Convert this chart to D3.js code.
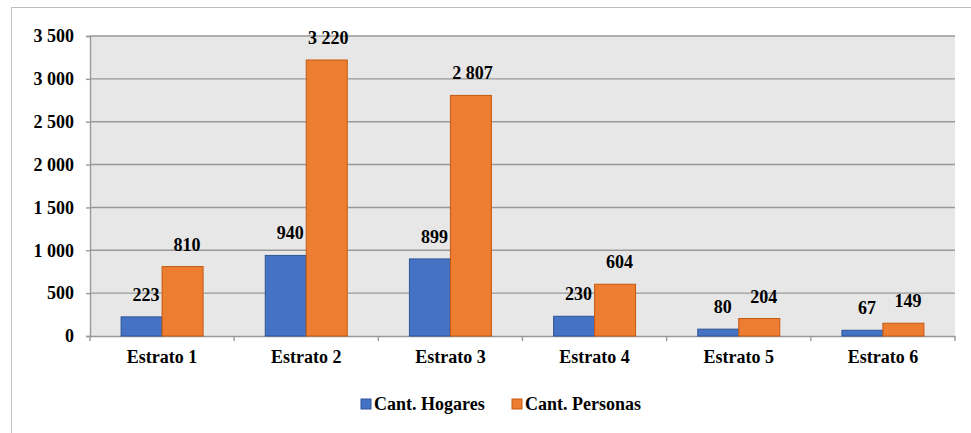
<!DOCTYPE html>
<html><head><meta charset="utf-8">
<script src="https://cdn.jsdelivr.net/npm/d3@7"></script>
<style>body{margin:0;background:#fff;}svg{display:block;} text{font-family:"Liberation Serif","Times New Roman",serif;font-weight:bold;}</style>
</head><body>
<svg id="c" width="971" height="433"></svg>
<script>
const categories = ["Estrato 1","Estrato 2","Estrato 3","Estrato 4","Estrato 5","Estrato 6"];
const seriesNames = ["Cant. Hogares","Cant. Personas"];
const hogares = [223, 940, 899, 230, 80, 67];
const personas = [810, 3220, 2807, 604, 204, 149];
const yTicks = [0, 500, 1000, 1500, 2000, 2500, 3000, 3500];
const colors = ["#4472C4", "#ED7D31"];
const strokes = ["#2F5597", "#C55A11"];

const svg = d3.select("#c");
const W = 971, H = 433;
const m = {left: 90, right: 955, top: 36, bottom: 336};
const FS = "18px";
const loc = d3.formatLocale({decimal: ",", thousands: " ", grouping: [3], currency: ["", ""]});
const fmt = loc.format(",d");

function styleText(sel) {
  sel.style("font-family", "'Liberation Serif','Times New Roman',serif")
     .style("font-weight", "bold").style("font-size", FS).attr("fill", "#000");
}

// outer border
svg.append("rect").attr("x", 11.5).attr("y", 7.5).attr("width", W).attr("height", H)
  .attr("fill", "#fff").attr("stroke", "#bfbfbf").attr("stroke-width", 1);

const x0 = d3.scaleBand().domain(categories).range([m.left, m.right]).paddingInner(0).paddingOuter(0);
const y = d3.scaleLinear().domain([0, 3500]).range([m.bottom, m.top]);

// plot bg
svg.append("rect").attr("x", m.left).attr("y", m.top).attr("width", m.right - m.left).attr("height", m.bottom - m.top).attr("fill", "#e7e7e7");

// gridlines
svg.append("g").selectAll("line").data(yTicks.filter(d => d > 0)).join("line")
  .attr("x1", m.left).attr("x2", m.right).attr("y1", d => y(d)).attr("y2", d => y(d))
  .attr("stroke", "#999").attr("stroke-width", 1.4);

// y axis
const yAxis = d3.axisLeft(y).tickValues(yTicks).tickFormat(fmt).tickSize(4).tickPadding(12);
const gy = svg.append("g").attr("transform", `translate(${m.left},0)`).call(yAxis);
gy.select(".domain").attr("stroke", "#999").attr("stroke-width", 1.4);
gy.selectAll(".tick line").attr("stroke", "#999").attr("stroke-width", 1.4);
gy.selectAll("text").call(styleText);

// x axis
const xAxis = d3.axisBottom(x0).tickSize(0).tickPadding(14);
const gx = svg.append("g").attr("transform", `translate(0,${m.bottom})`).call(xAxis);
gx.select(".domain").attr("stroke", "#999").attr("stroke-width", 1.4);
gx.selectAll("text").call(styleText);
// ticks at band boundaries
const bounds = categories.map(c => x0(c)).concat([m.right]);
svg.append("g").selectAll("line").data(bounds).join("line")
  .attr("x1", d => d).attr("x2", d => d).attr("y1", m.bottom).attr("y2", m.bottom + 5)
  .attr("stroke", "#999").attr("stroke-width", 1.4);

// bars
const data = categories.map((c, i) => ({c, vals: [hogares[i], personas[i]]}));
const barW = 41;
const groups = svg.append("g").selectAll("g").data(data).join("g")
  .attr("transform", d => `translate(${x0(d.c) + x0.bandwidth() / 2},0)`);
groups.selectAll("rect").data(d => d.vals.map((v, k) => ({v, k}))).join("rect")
  .attr("x", d => d.k === 0 ? -barW : 0).attr("width", barW)
  .attr("y", d => y(d.v)).attr("height", d => y(0) - y(d.v))
  .attr("fill", d => colors[d.k]).attr("stroke", d => strokes[d.k]).attr("stroke-width", 1);
groups.selectAll("text").data(d => d.vals.map((v, k) => ({v, k}))).join("text")
  .attr("x", d => (d.k === 0 ? -barW / 2 : barW / 2) + (d.v >= 1000 ? 1.5 : 4.5))
  .attr("y", d => y(d.v) - 16)
  .attr("text-anchor", "middle")
  .text(d => fmt(d.v))
  .call(styleText);

// legend
const leg = svg.append("g");
const legX = [361, 512];
seriesNames.forEach((s, i) => {
  leg.append("rect").attr("x", legX[i]).attr("y", 399).attr("width", 10).attr("height", 10)
    .attr("fill", colors[i]).attr("stroke", strokes[i]).attr("stroke-width", 1);
  leg.append("text").attr("x", legX[i] + 13).attr("y", 409.5).text(s).call(styleText);
});
</script>
</body></html>
